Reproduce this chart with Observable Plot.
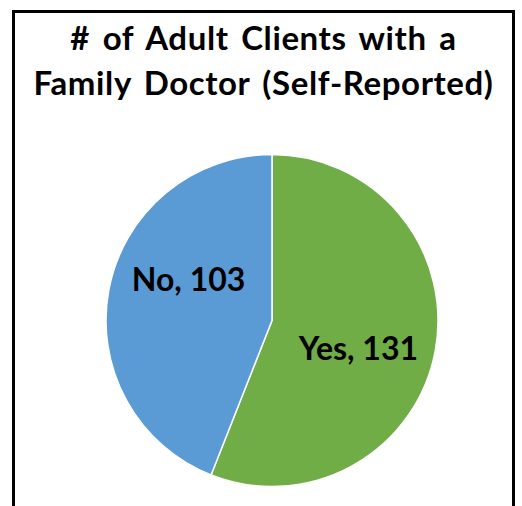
<!DOCTYPE html>
<html>
<head>
<meta charset="utf-8">
<script src="https://cdn.jsdelivr.net/npm/d3@7"></script>
<script src="https://cdn.jsdelivr.net/npm/@observablehq/plot@0.6"></script>
<style>
  html, body { margin: 0; padding: 0; background: #fff; }
  #wrap { position: relative; width: 522px; height: 506px; overflow: hidden; }
  #frame { position: absolute; left: 12px; top: 10px; width: 497px; height: 520px;
           border: 3px solid #000; border-bottom: none; box-sizing: content-box; }
  #title { position: absolute; left: 12px; width: 503px; top: 15px; text-align: center;
           font-family: Lato, sans-serif; font-weight: bold; font-size: 33px; line-height: 45px;
           letter-spacing: 0.6px; word-spacing: 4px; color: #000; white-space: nowrap; }
  #chart { position: absolute; left: 0; top: 0; }
</style>
</head>
<body>
<div id="wrap">
  <div id="frame"></div>
  <div id="chart"></div>
  <div id="title"># of Adult Clients with a<br>Family Doctor (Self-Reported)</div>
</div>
<script>
const categories = ["Yes", "No"];
const counts = [131, 103];
const colors = ["#70AD47", "#5B9BD5"];

const data = categories.map((c, i) => ({category: c, count: counts[i], color: colors[i]}));
const arcs = d3.pie().sort(null).value(d => d.count).startAngle(0).endAngle(2 * Math.PI)(data);

// pie geometry in data units (unit radius), placed via x/y scales
const cx = 272, cy = 320.5, R = 166, W = 522, H = 506;
const xDomain = [-cx / R, (W - cx) / R];
const yDomain = [-(H - cy) / R, cy / R];

// label placement style: angular offset (degrees) and radial fraction per slice
const labelStyle = {Yes: {shift: 7.5, r: 0.545}, No: {shift: 14.7, r: 0.56}};
const labels = arcs.map(a => {
  const s = labelStyle[a.data.category];
  const m = (a.startAngle + a.endAngle) / 2 + s.shift * Math.PI / 180;
  return {x: s.r * Math.sin(m), y: s.r * Math.cos(m), text: `${a.data.category}, ${a.data.count}`};
});

function pieMark(index, scales, values, dimensions) {
  const x0 = scales.x(0), y0 = scales.y(0);
  const r = scales.x(1) - scales.x(0);
  const arc = d3.arc().innerRadius(0).outerRadius(r);
  const g = d3.create("svg:g").attr("transform", `translate(${x0},${y0})`);
  g.selectAll("path").data(arcs).join("path")
    .attr("d", arc)
    .attr("fill", d => d.data.color)
    .attr("stroke", "#fff")
    .attr("stroke-width", 1.5)
    .attr("stroke-linejoin", "round");
  return g.node();
}

const plot = Plot.plot({
  width: W,
  height: H,
  margin: 0,
  x: {domain: xDomain, axis: null},
  y: {domain: yDomain, axis: null},
  style: {background: "transparent"},
  marks: [
    pieMark,
    Plot.text(labels, {
      x: "x", y: "y", text: "text",
      fontFamily: "Lato, sans-serif", fontWeight: "bold", fontSize: 32,
      fill: "#000", lineAnchor: "middle"
    })
  ]
});
document.getElementById("chart").appendChild(plot);
</script>
</body>
</html>
